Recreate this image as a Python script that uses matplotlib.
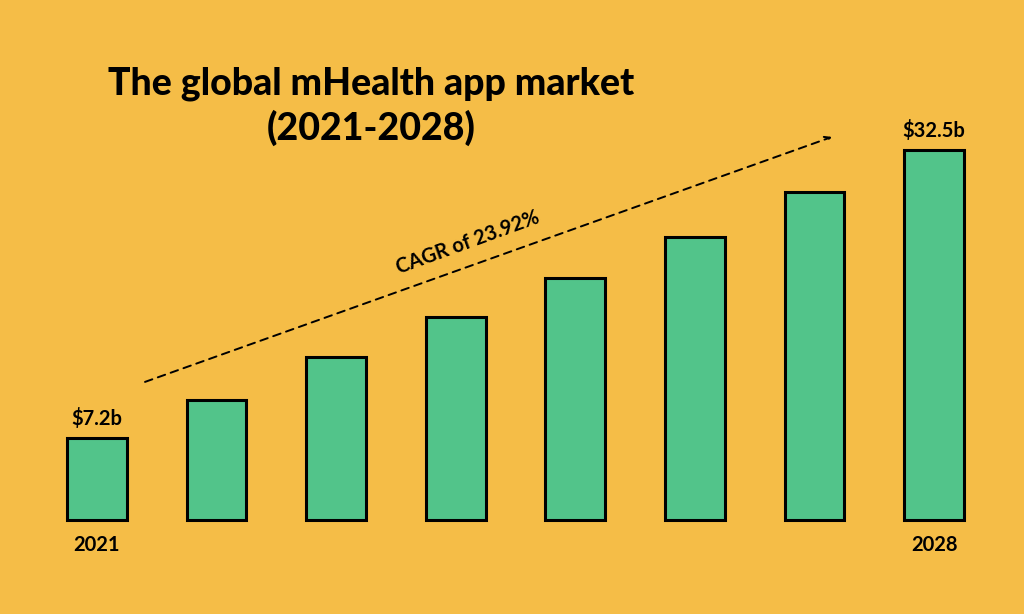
import matplotlib.pyplot as plt

years = [2021, 2022, 2023, 2024, 2025, 2026, 2027, 2028]
values = [7.2, 10.5, 14.3, 17.8, 21.3, 24.9, 28.8, 32.5]
first_label = "$7.2b"
last_label = "$32.5b"
title = "The global mHealth app market\n(2021-2028)"
cagr = "CAGR of 23.92%"

bg = "#F5BD47"
green = "#52C48A"

plt.rcParams['font.family'] = ['Lato', 'DejaVu Sans']

fig = plt.figure(figsize=(10.24, 6.14), dpi=100, facecolor=bg)
ax = fig.add_axes([0, 0, 1, 1])
ax.set_facecolor(bg)

x = list(range(len(years)))
ax.bar(x, values, width=0.5, color=green, edgecolor="black", linewidth=2.2)
ax.set_xlim(-0.811, 7.751)
ax.set_ylim(-8.26, 45.68)
ax.axis('off')

# value labels and year labels for the ends
ax.text(x[0], values[0] + 0.8, first_label, ha='center', va='bottom',
        fontsize=14.5, fontweight='bold')
ax.text(x[-1], values[-1] + 0.8, last_label, ha='center', va='bottom',
        fontsize=14.5, fontweight='bold')
ax.text(x[0], -2.2, str(years[0]), ha='center', va='center',
        fontsize=14.5, fontweight='bold')
ax.text(x[-1], -2.2, str(years[-1]), ha='center', va='center',
        fontsize=14.5, fontweight='bold')

# title
fig.text(0.362, 0.827, title, ha='center', va='center', fontsize=27,
         fontweight='black', linespacing=1.3)

# dashed trend arrow
ax.annotate("", xy=(0.8125, 0.777), xytext=(0.1416, 0.378),
            xycoords='figure fraction', textcoords='figure fraction',
            arrowprops=dict(arrowstyle='->', color='black', lw=1.4,
                            linestyle=(0, (4, 3)), shrinkA=0, shrinkB=0))
fig.text(0.457, 0.605, cagr, ha='center', va='center', fontsize=14.5,
         fontweight='bold', rotation=20, rotation_mode='anchor')

fig.savefig("out.png", dpi=100, facecolor=bg)
